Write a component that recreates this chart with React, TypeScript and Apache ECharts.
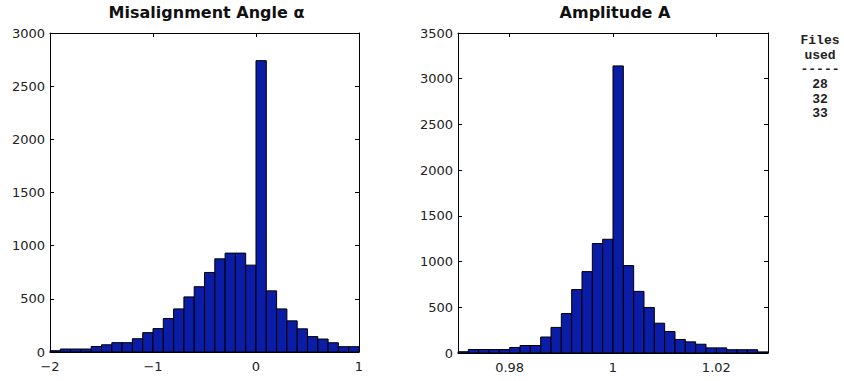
import React, { useEffect, useRef } from "react";
import * as echarts from "echarts";

// Histogram counts, 30 bins each
const angleCounts = [12, 28, 28, 28, 52, 68, 88, 88, 125, 182, 220, 315, 405, 518, 614, 748, 876, 930, 930, 817, 2740, 575, 405, 293, 218, 145, 122, 87, 50, 50];
const angleRange = [-2, 1];
const angleTicks = [-2, -1, 0, 1];

const ampCounts = [14, 38, 38, 38, 38, 60, 82, 82, 175, 280, 432, 694, 890, 1197, 1244, 3140, 956, 674, 498, 326, 235, 148, 122, 96, 56, 56, 36, 36, 36, 12];
const ampRange = [0.97, 1.03];
const ampTicks = [0.98, 1, 1.02];

const titles = ["Misalignment Angle α", "Amplitude A"];
const filesHeader = ["Files", "used", "-----"];
const filesUsed = ["28", "32", "33"];

const BAR_FILL = "#0b1ca6";
const LABEL_FONT = "DejaVu Sans";

function bins(counts: number[], range: number[]) {
  const w = (range[1] - range[0]) / counts.length;
  return counts.map((c, i) => [range[0] + i * w, range[0] + (i + 1) * w, c]);
}

function fmt(v: number) {
  return v < 0 ? "\u2212" + Math.abs(v) : String(v);
}

const renderBin = (params: any, api: any) => {
  const p0 = api.coord([api.value(0), api.value(2)]);
  const p1 = api.coord([api.value(1), 0]);
  return {
    type: "rect",
    shape: { x: p0[0], y: p0[1], width: p1[0] - p0[0], height: p1[1] - p0[1] },
    style: { fill: BAR_FILL, stroke: "#000", lineWidth: 1 },
  };
};

const lineStyle = { color: "#000", width: 1 };
const tickStyle = { show: true, inside: true, length: 4, lineStyle };
const labelStyle = { color: "#222", fontFamily: LABEL_FONT, fontSize: 13 };

export default function App() {
  const ref = useRef<HTMLDivElement>(null);

  useEffect(() => {
    const chart = echarts.init(ref.current!, undefined, { renderer: "svg" });

    const grids = [
      { left: 50, top: 33, width: 309, height: 319 },
      { left: 458, top: 33, width: 310, height: 320 },
    ];

    const xAxes: any[] = [];
    const yAxes: any[] = [];
    [
      { range: angleRange, ticks: angleTicks, yMax: 3000 },
      { range: ampRange, ticks: ampTicks, yMax: 3500 },
    ].forEach((cfg, g) => {
      const xBase = {
        type: "value",
        gridIndex: g,
        min: cfg.range[0],
        max: cfg.range[1],
        splitLine: { show: false },
        axisLine: { show: true, onZero: false, lineStyle },
      };
      xAxes.push({
        ...xBase,
        position: "bottom",
        axisTick: { ...tickStyle, customValues: cfg.ticks },
        axisLabel: { ...labelStyle, margin: 8, customValues: cfg.ticks, formatter: fmt },
      });
      xAxes.push({
        ...xBase,
        position: "top",
        axisTick: { ...tickStyle, customValues: cfg.ticks },
        axisLabel: { show: false },
      });
      const yBase = {
        type: "value",
        gridIndex: g,
        min: 0,
        max: cfg.yMax,
        interval: 500,
        splitLine: { show: false },
        axisLine: { show: true, onZero: false, lineStyle },
        axisTick: tickStyle,
      };
      yAxes.push({ ...yBase, position: "left", axisLabel: { ...labelStyle, margin: 5, formatter: fmt } });
      yAxes.push({ ...yBase, position: "right", axisLabel: { show: false } });
    });

    const graphic: any[] = [];
    titles.forEach((t, i) => {
      const g = grids[i];
      graphic.push({
        type: "text",
        x: g.left + g.width / 2 + 2,
        y: 12,
        style: {
          text: t,
          fill: "#111",
          font: "bold 16px 'DejaVu Sans', sans-serif",
          textAlign: "center",
          textVerticalAlign: "middle",
        },
      });
    });
    [...filesHeader, ...filesUsed].forEach((t, i) => {
      const ys = [40, 55, 69, 84, 99, 113];
      graphic.push({
        type: "text",
        x: 820,
        y: ys[i],
        style: {
          text: t,
          fill: "#222",
          font: "bold 13px 'Liberation Mono', monospace",
          textAlign: "center",
          textVerticalAlign: "middle",
        },
      });
    });

    chart.setOption({
      animation: false,
      backgroundColor: "#fff",
      grid: grids,
      xAxis: xAxes,
      yAxis: yAxes,
      graphic,
      series: [
        {
          type: "custom",
          xAxisIndex: 0,
          yAxisIndex: 0,
          renderItem: renderBin,
          encode: { x: [0, 1], y: 2 },
          data: bins(angleCounts, angleRange),
        },
        {
          type: "custom",
          xAxisIndex: 2,
          yAxisIndex: 2,
          renderItem: renderBin,
          encode: { x: [0, 1], y: 2 },
          data: bins(ampCounts, ampRange),
        },
      ],
    });

    return () => chart.dispose();
  }, []);

  return (
    <div
      ref={ref}
      style={{ position: "absolute", left: 0, top: 0, width: 844, height: 381, background: "#fff" }}
    />
  );
}
